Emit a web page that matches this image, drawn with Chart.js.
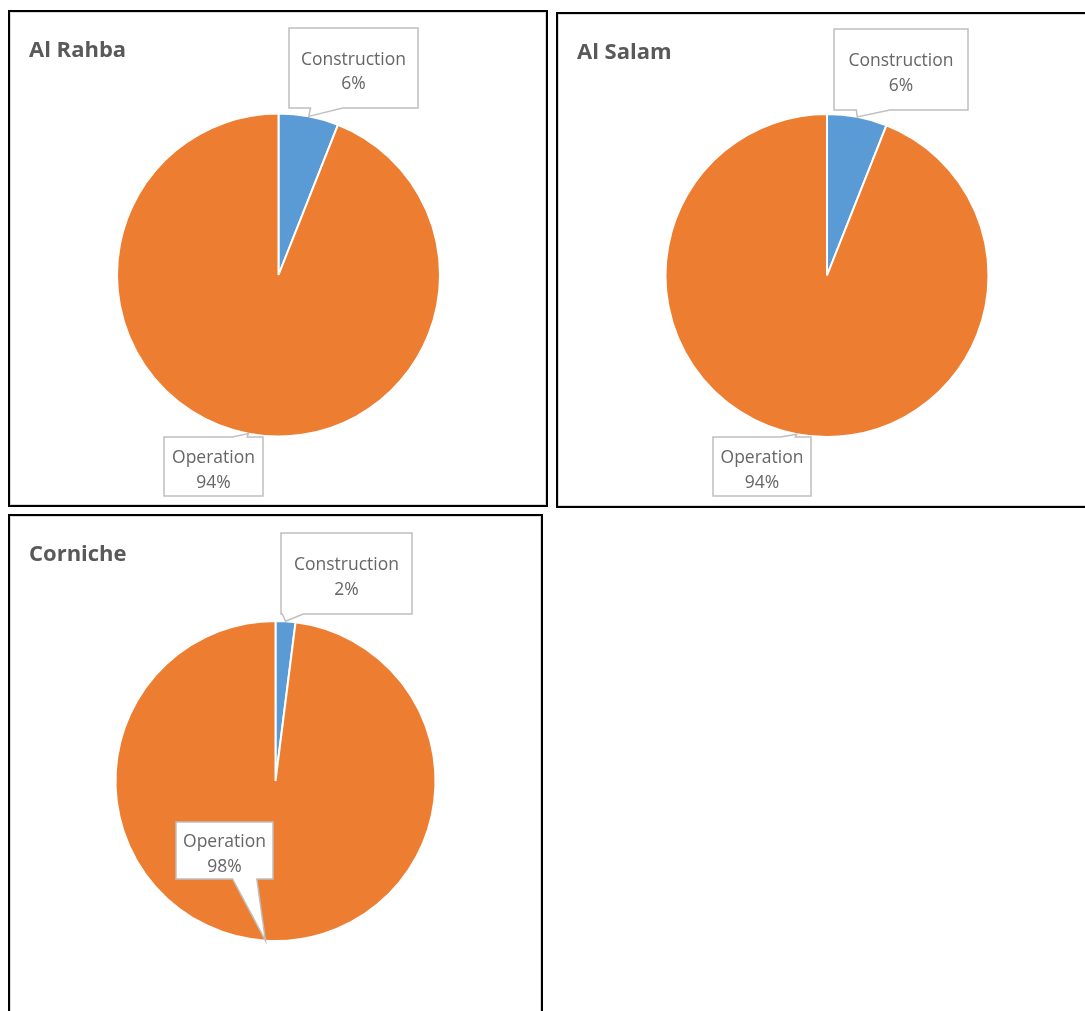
<!DOCTYPE html>
<html>
<head>
<meta charset="utf-8">
<title>Construction vs Operation share by site</title>
<script src="https://cdn.jsdelivr.net/npm/chart.js@4.4.1/dist/chart.umd.min.js"></script>
<style>
  html, body { margin: 0; padding: 0; background: #fff; }
  body { width: 1085px; height: 1011px; overflow: hidden; position: relative; }
  .panel { position: absolute; box-sizing: border-box; border: 2px solid #000; background: #fff; }
  .inner { position: absolute; inset: 0; border: 1px solid #d9d9d9; }
  .inner canvas { position: absolute; left: 0; top: 0; }
</style>
</head>
<body>
<div class="panel" style="left:8px;top:10px;width:540px;height:497px"><div class="inner"><canvas id="pie0" width="534" height="491"></canvas></div></div>
<div class="panel" style="left:556px;top:12px;width:540px;height:496px"><div class="inner"><canvas id="pie1" width="534" height="490"></canvas></div></div>
<div class="panel" style="left:8px;top:514px;width:535px;height:540px"><div class="inner"><canvas id="pie2" width="529" height="534"></canvas></div></div>

<script>
// ---- data ----
const sites = ['Al Rahba', 'Al Salam', 'Corniche'];
const phases = ['Construction', 'Operation'];
const constructionShare = [6, 6, 2];   // % of total
const operationShare = [94, 94, 98];   // % of total
const phaseColors = ['#5b9bd5', '#ed7d31'];

// ---- layout / styling per panel (pie centre, radius, callout boxes relative to centre) ----
const panelStyle = [
  { cx: 267.5, cy: 262, r: 161.5,
    boxes: [ { dx: 10.5, dy: -247, w: 129, h: 80, wedge: [2/12, 5/12] },
             { dx: -114.5, dy: 162, w: 99, h: 59, wedge: [0.69, 0.84] } ] },
  { cx: 268, cy: 260.5, r: 161.5,
    boxes: [ { dx: 7, dy: -246.5, w: 134, h: 81, wedge: [2/12, 5/12] },
             { dx: -114, dy: 161.5, w: 98, h: 59, wedge: [0.69, 0.84] } ] },
  { cx: 264.5, cy: 264, r: 160,
    boxes: [ { dx: 5.5, dy: -248, w: 131, h: 81, wedge: [0.01, 0.17] },
             { dx: -99.5, dy: 41, w: 97, h: 57, wedge: [7/12, 10/12] } ] }
];

const FONT = "'Open Sans', 'DejaVu Sans', sans-serif";
const titleSize = 22, titleLineHeight = 1.2, titleCenterY = 37.5, titleLeft = 18;

// Callout labels: white rectangle with a wedge pointing at the slice's outer edge
const calloutPlugin = {
  id: 'callouts',
  afterDatasetsDraw(chart, args, opts) {
    const ctx = chart.ctx;
    const meta = chart.getDatasetMeta(0);
    const values = chart.data.datasets[0].data;
    meta.data.forEach((arc, i) => {
      const st = opts.boxes[i];
      const p = arc.getProps(['x', 'y', 'startAngle', 'endAngle', 'outerRadius'], true);
      const mid = (p.startAngle + p.endAngle) / 2;
      const tx = p.x + Math.cos(mid) * p.outerRadius;
      const ty = p.y + Math.sin(mid) * p.outerRadius;
      const x = p.x + st.dx, y = p.y + st.dy, w = st.w, h = st.h;
      const b1 = x + w * st.wedge[0], b2 = x + w * st.wedge[1];

      ctx.save();
      ctx.beginPath();
      if (ty > y + h) {
        ctx.moveTo(x, y);
        ctx.lineTo(x + w, y);
        ctx.lineTo(x + w, y + h);
        ctx.lineTo(b2, y + h);
        ctx.lineTo(tx, ty);
        ctx.lineTo(b1, y + h);
        ctx.lineTo(x, y + h);
      } else {
        ctx.moveTo(x, y);
        ctx.lineTo(b1, y);
        ctx.lineTo(tx, ty);
        ctx.lineTo(b2, y);
        ctx.lineTo(x + w, y);
        ctx.lineTo(x + w, y + h);
        ctx.lineTo(x, y + h);
      }
      ctx.closePath();
      ctx.fillStyle = '#ffffff';
      ctx.fill();
      ctx.lineWidth = 1.5;
      ctx.strokeStyle = '#bfbfbf';
      ctx.lineJoin = 'miter';
      ctx.stroke();

      // two text lines: category name and percentage
      const fs = 17.5, cap = fs * 0.714, gap = 24.5;
      const c = y + h / 2 + 3;
      ctx.fillStyle = '#666666';
      ctx.font = `${fs}px ${FONT}`;
      ctx.textAlign = 'center';
      ctx.textBaseline = 'alphabetic';
      ctx.fillText(chart.data.labels[i], x + w / 2, c - gap / 2 + cap / 2);
      ctx.fillText(values[i] + '%', x + w / 2, c + gap / 2 + cap / 2);
      ctx.restore();
    });
  }
};

sites.forEach((site, k) => {
  const canvas = document.getElementById('pie' + k);
  const st = panelStyle[k];
  const titleH = titleSize * titleLineHeight;
  const titlePadTop = titleCenterY - titleH / 2;
  const areaTop = titlePadTop + titleH;
  const areaBottom = 2 * st.cy - areaTop;

  new Chart(canvas, {
    type: 'pie',
    data: {
      labels: phases,
      datasets: [{
        data: [constructionShare[k], operationShare[k]],
        backgroundColor: phaseColors,
        borderColor: '#ffffff',
        borderWidth: 2,
        radius: st.r
      }]
    },
    options: {
      responsive: false,
      animation: false,
      events: [],
      layout: {
        padding: {
          left: titleLeft,
          right: canvas.width - 2 * st.cx + titleLeft,
          top: 0,
          bottom: canvas.height - areaBottom
        }
      },
      plugins: {
        legend: { display: false },
        tooltip: { enabled: false },
        title: {
          display: true,
          text: site,
          align: 'start',
          color: '#595959',
          font: { family: FONT, size: titleSize, weight: 'bold', lineHeight: titleLineHeight },
          padding: { top: titlePadTop, bottom: 0 }
        },
        callouts: { boxes: st.boxes }
      }
    },
    plugins: [calloutPlugin]
  });
});
</script>
</body>
</html>
